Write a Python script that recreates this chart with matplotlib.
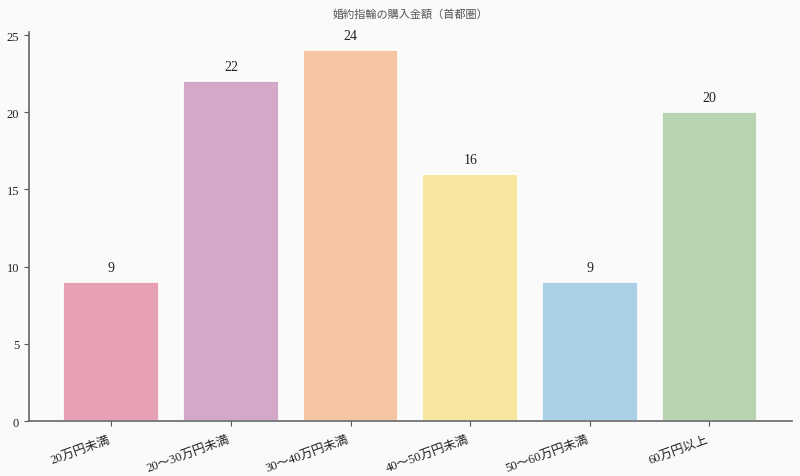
import matplotlib
matplotlib.use('Agg')
import matplotlib.pyplot as plt

plt.rcParams['font.family'] = ['Liberation Serif', 'Noto Sans CJK JP', 'DejaVu Sans']

categories = ['20万円未満', '20〜30万円未満', '30〜40万円未満', '40〜50万円未満', '50〜60万円未満', '60万円以上']
values = [9, 22, 24, 16, 9, 20]
colors = ['#e8a0b4', '#d4a8c8', '#f5c4a2', '#f7e6a0', '#a9d0e7', '#b9d4b1']

fig = plt.figure(figsize=(8, 4.77), dpi=100, facecolor='#fafafa')
ax = fig.add_axes([0.036, 0.115, 0.954, 0.816])
ax.set_facecolor('#fafafa')

x = list(range(len(categories)))
bars = ax.bar(x, values, width=0.8, color=colors, edgecolor='white', linewidth=1.2)
for b, v in zip(bars, values):
    ax.annotate(str(v), (b.get_x() + b.get_width() / 2, v), xytext=(0, 6),
                textcoords='offset points', ha='center', va='bottom', fontsize=10, color='#222')

ax.set_ylim(0, 25.2)
ax.set_xticks(x)
ax.set_xticklabels(categories, rotation=20, ha='right', fontsize=9, color='#222')
ax.tick_params(axis='y', labelsize=9, labelcolor='#222', color='#555')
ax.tick_params(axis='x', color='#555', pad=5)
for s in ['top', 'right']:
    ax.spines[s].set_visible(False)
for s in ['left', 'bottom']:
    ax.spines[s].set_color('#666')
    ax.spines[s].set_linewidth(1.2)

fig.text(0.513, 0.97, '婚約指輪の購入金額（首都圏）', ha='center', va='center', fontsize=8, color='#555')

fig.savefig('out.png', dpi=100, facecolor=fig.get_facecolor())
